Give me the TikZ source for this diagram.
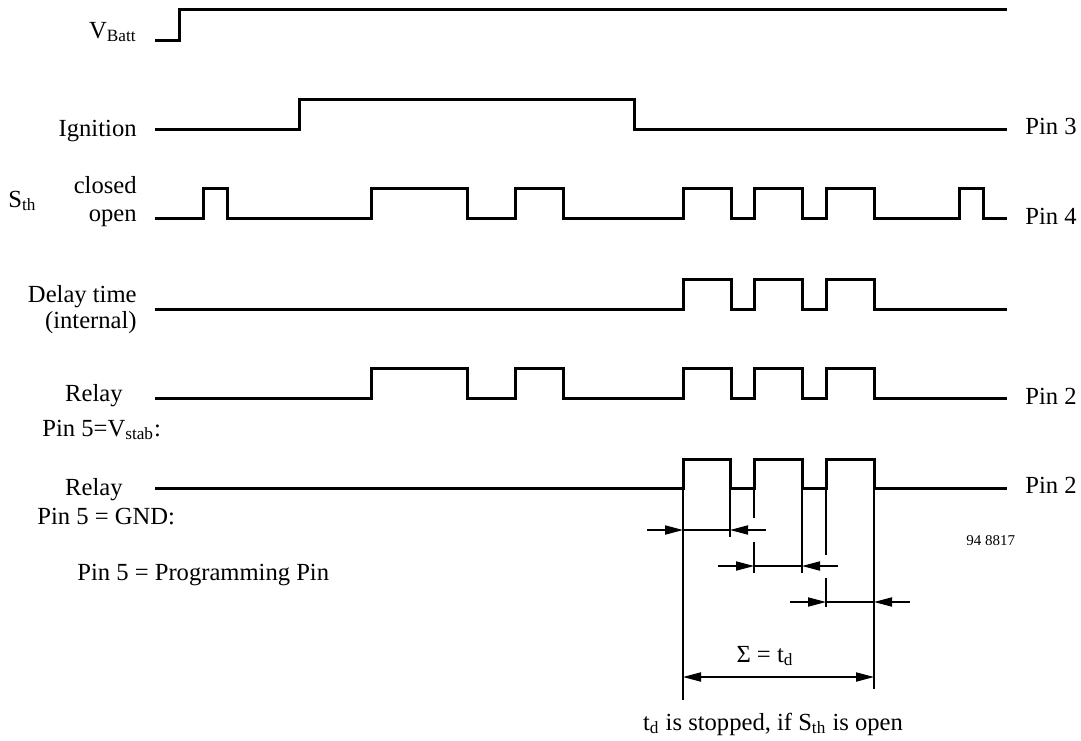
\documentclass[tikz,border=0pt]{standalone}
\usepackage{fontspec}
\setmainfont{Liberation Serif}
\usetikzlibrary{arrows.meta}

\tikzset{
    wave/.style={line width=1.5pt},
    dimline/.style={line width=0.6pt},
    dimtip/.tip={Triangle[length=9pt,width=4.6pt]},
    dimarrow/.style={dimline,-dimtip},
    lbl/.style={inner sep=0pt,font=\fontsize{12.3}{14}\selectfont},
    smalllbl/.style={inner sep=0pt,font=\fontsize{7.5}{9}\selectfont},
}

\begin{document}
\begin{tikzpicture}[x=0.5pt,y=-0.5pt]
                \useasboundingbox (0,0) rectangle (1081,740);

                % signal names
                \node[lbl,anchor=base east] (vbatt) at (137,38) {V\textsubscript{Batt}};
                \node[lbl,anchor=base east] (ign) at (137,136) {Ignition};
                \node[lbl,anchor=base west] (sth) at (8,207) {S\textsubscript{th}};
                \node[lbl,anchor=base east] (closed) at (137,193) {closed};
                \node[lbl,anchor=base east] (open) at (137,221) {open};
                \node[lbl,anchor=base east] (delay) at (137,302) {Delay time};
                \node[lbl,anchor=base east] (intern) at (137,328) {(internal)};
                \node[lbl,anchor=base east] (relaya) at (123,401) {Relay};
                \node[lbl,anchor=base west] (vstab) at (42,436) {Pin 5=V\textsubscript{stab}:};
                \node[lbl,anchor=base east] (relayb) at (123,495) {Relay};
                \node[lbl,anchor=base west] (gnd) at (37,524) {Pin 5 = GND:};
                \node[lbl,anchor=base west] (prog) at (77,580) {Pin 5 = Programming Pin};

                % pin names
                \node[lbl,anchor=base west] (pinc) at (1025,134) {Pin 3};
                \node[lbl,anchor=base west] (pind) at (1025,224) {Pin 4};
                \node[lbl,anchor=base west] (pinba) at (1025,404) {Pin 2};
                \node[lbl,anchor=base west] (pinbb) at (1025,493) {Pin 2};
                \node[smalllbl,anchor=base west] (fig) at (966,545) {94 8817};

                % waveforms
                \draw[wave] (155,40) -- (179,40) -- (179,9) -- (1007,9);
                \draw[wave] (155,129) -- (299,129) -- (299,99) -- (634,99) -- (634,129) -- (1007,129);
                \draw[wave] (155,218) -- (203,218) |- (227,188) |- (371,218) |- (467,188) |- (515,218)
                    |- (563,188) |- (683,218) |- (731,188) |- (754,218) |- (802,188) |- (826,218)
                    |- (874,188) |- (959,218) |- (983,188) |- (1007,218);
                \draw[wave] (155,309) -- (683,309) |- (731,279) |- (754,309) |- (802,279) |- (826,309)
                    |- (874,279) |- (1007,309);
                \draw[wave] (155,398) -- (371,398) |- (467,368) |- (515,398) |- (563,368) |- (683,398)
                    |- (731,368) |- (754,398) |- (802,368) |- (826,398) |- (874,368) |- (1007,398);
                \draw[wave] (155,488) -- (683,488) |- (730,459) |- (754,488) |- (802,459) |- (826,488)
                    |- (874,459) |- (1007,488);

                % extension lines
                \draw[dimline] (683,488) -- (683,700);
                \draw[dimline] (730,488) -- (730,537);
                \draw[dimline] (754,488) -- (754,518) (754,542) -- (754,573);
                \draw[dimline] (802,488) -- (802,573);
                \draw[dimline] (826,488) -- (826,555) (826,578) -- (826,607);
                \draw[dimline] (874,488) -- (874,689);

                % single delay times
                \coordinate (da1) at (647,530);
                \coordinate (da2) at (683,530);
                \coordinate (da3) at (730,530);
                \coordinate (da4) at (766,530);
                \draw[dimarrow] (da1) -- (da2);
                \draw[dimline] (da2) -- (da3);
                \draw[dimarrow] (da4) -- (da3);

                \coordinate (db1) at (718,566);
                \coordinate (db2) at (754,566);
                \coordinate (db3) at (802,566);
                \coordinate (db4) at (838,566);
                \draw[dimarrow] (db1) -- (db2);
                \draw[dimline] (db2) -- (db3);
                \draw[dimarrow] (db4) -- (db3);

                \coordinate (dc1) at (790,602);
                \coordinate (dc2) at (826,602);
                \coordinate (dc3) at (874,602);
                \coordinate (dc4) at (910,602);
                \draw[dimarrow] (dc1) -- (dc2);
                \draw[dimline] (dc2) -- (dc3);
                \draw[dimarrow] (dc4) -- (dc3);

                % sum
                \coordinate (sa) at (683,677);
                \coordinate (sb) at (874,677);
                \draw[dimline,dimtip-dimtip] (sa) -- (sb);
                \node[lbl,anchor=base] (sum) at (765,662) {Σ = t\textsubscript{d}};
                \node[lbl,anchor=base] (note) at (773,730) {t\textsubscript{d} is stopped, if S\textsubscript{th} is open};
\end{tikzpicture}
\end{document}
